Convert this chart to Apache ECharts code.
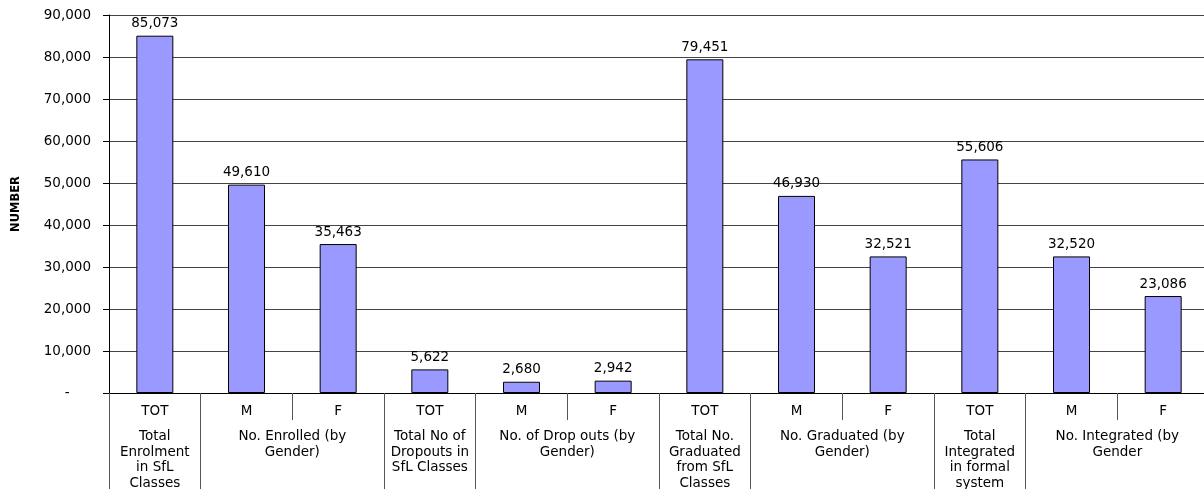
<!DOCTYPE html>
<html lang="en" style="height: 100%">
<head>
  <meta charset="utf-8">
</head>
<body style="height: 100%; margin: 0; background: #fff">
  <div id="container" style="width: 1204px; height: 489px"></div>

  <script type="text/javascript" src="https://fastly.jsdelivr.net/npm/echarts@6/dist/echarts.min.js"></script>
  <script type="text/javascript">
    // bar labels and values, left to right
    var barLabels = ['TOT', 'M', 'F', 'TOT', 'M', 'F', 'TOT', 'M', 'F', 'TOT', 'M', 'F'];
    var barValues = [85073, 49610, 35463, 5622, 2680, 2942, 79451, 46930, 32521, 55606, 32520, 23086];

    // second level of the category axis
    var groupNames = [
      'Total\nEnrolment\nin SfL\nClasses',
      'No. Enrolled (by\nGender)',
      'Total No of\nDropouts in\nSfL Classes',
      'No. of Drop outs (by\nGender)',
      'Total No.\nGraduated\nfrom SfL\nClasses',
      'No. Graduated (by\nGender)',
      'Total\nIntegrated\nin formal\nsystem',
      'No. Integrated (by\nGender'
    ];
    var groupSpans = [1, 2, 1, 2, 1, 2, 1, 2];

    var yTicks = [0, 10000, 20000, 30000, 40000, 50000, 60000, 70000, 80000, 90000];

    // half-slot positions: 2 per bar, plus the closing edge
    var halfSlots = [];
    for (var k = 0; k <= barLabels.length * 2; k++) halfSlots.push('');
    var groupEdges = {0: true};
    var innerEdges = {};
    var pos = 0;
    groupNames.forEach(function (name, i) {
      var span = groupSpans[i];
      halfSlots[pos * 2 + span] = name;
      if (span === 2) innerEdges[pos * 2 + 2] = true;
      pos += span;
      groupEdges[pos * 2] = true;
    });

    var fmt = function (v) {
      return v === 0 ? '-     ' : v.toLocaleString('en-US');
    };

    // the original text is a stretched Arial; DejaVu Sans is close in width
    var font = 'DejaVu Sans, Liberation Sans, sans-serif';

    var dom = document.getElementById('container');
    var myChart = echarts.init(dom, null, { renderer: 'canvas' });

    var option = {
      animation: false,
      backgroundColor: '#fff',
      textStyle: { fontFamily: font },
      grid: { left: 109, top: 15, width: 1100, height: 378, containLabel: false, outerBoundsMode: 'none' },
      xAxis: [
        {
          type: 'category',
          position: 'bottom',
          data: barLabels,
          axisLine: { lineStyle: { color: '#000', width: 1 } },
          axisTick: { show: false },
          axisLabel: { interval: 0, margin: 11, color: '#000', fontSize: 13.5, fontFamily: font }
        },
        {
          type: 'category',
          position: 'bottom',
          offset: 0,
          data: halfSlots,
          boundaryGap: false,
          axisLine: { show: false },
          axisTick: {
            interval: function (i) { return !!groupEdges[i]; },
            length: 96,
            lineStyle: { color: '#555' }
          },
          axisLabel: {
            interval: 0, margin: 36, color: '#000', fontSize: 13.5, lineHeight: 15.5,
            fontFamily: font, align: 'center', verticalAlign: 'top'
          }
        },
        {
          type: 'category',
          position: 'bottom',
          offset: 0,
          data: halfSlots,
          boundaryGap: false,
          axisLine: { show: false },
          axisTick: {
            interval: function (i) { return !!innerEdges[i]; },
            length: 27,
            lineStyle: { color: '#555' }
          },
          axisLabel: { show: false }
        }
      ],
      yAxis: {
        type: 'value',
        min: yTicks[0],
        max: yTicks[yTicks.length - 1],
        interval: yTicks[1] - yTicks[0],
        name: 'NUMBER',
        nameLocation: 'middle',
        nameGap: 87,
        nameTextStyle: { fontSize: 11.5, fontWeight: 'bold', color: '#000', fontFamily: font },
        axisLine: { show: true, lineStyle: { color: '#000' } },
        axisTick: { show: true, length: 6, lineStyle: { color: '#000' } },
        axisLabel: { margin: 18, color: '#000', fontSize: 13.5, fontFamily: font, formatter: fmt },
        splitLine: { lineStyle: { color: '#444', width: 1 } }
      },
      series: [
        {
          type: 'bar',
          data: barValues,
          barWidth: 37,
          itemStyle: { color: '#9999FF', borderColor: '#000', borderWidth: 1 },
          label: {
            show: true,
            position: 'top',
            distance: 5,
            color: '#000',
            fontSize: 13.5,
            fontFamily: font,
            formatter: function (p) { return fmt(p.value); }
          }
        }
      ]
    };

    myChart.setOption(option);
    window.addEventListener('resize', myChart.resize);
  </script>
</body>
</html>
